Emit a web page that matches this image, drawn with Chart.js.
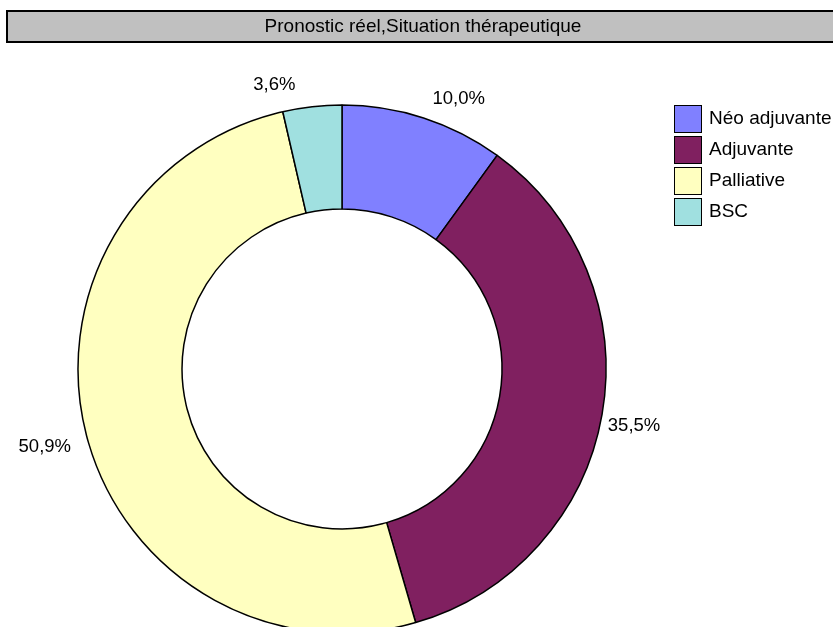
<!DOCTYPE html>
<html>
<head>
<meta charset="utf-8">
<script src="https://cdn.jsdelivr.net/npm/chart.js@4.4.0/dist/chart.umd.min.js"></script>
<style>
  html, body { margin: 0; padding: 0; background: #fff; }
  #wrap { width: 833px; height: 627px; }
</style>
</head>
<body>
<div id="wrap"><canvas id="pronostic" width="833" height="627"></canvas></div>
<script>
const chartTitle = 'Pronostic réel,Situation thérapeutique';
const categories = ['Néo adjuvante', 'Adjuvante', 'Palliative', 'BSC'];
const shares = [10.0, 35.5, 50.9, 3.6];
const sliceColors = ['#8080FF', '#802060', '#FFFFC0', '#A0E0E0'];

// shift of each value label from its arc anchor point
const labelNudge = [[4, 5], [-10, 0], [0, -2], [-15, 3]];

const FONT = '19px "Liberation Sans", Arial, sans-serif';
const LABEL_FONT = '18.5px "Liberation Sans", Arial, sans-serif';

const frame = {
  id: 'frame',
  beforeDraw(chart) {
    const ctx = chart.ctx;
    ctx.save();
    // title bar
    ctx.fillStyle = '#C0C0C0';
    ctx.fillRect(6, 10, 840, 32);
    ctx.strokeStyle = '#000';
    ctx.lineWidth = 2;
    ctx.strokeRect(7, 11, 840, 31);
    ctx.fillStyle = '#000';
    ctx.font = FONT;
    ctx.textAlign = 'center';
    ctx.textBaseline = 'middle';
    ctx.fillText(chartTitle, 423, 27);
    ctx.restore();
  },
  afterDraw(chart) {
    const ctx = chart.ctx;
    const arcs = chart.getDatasetMeta(0).data;
    ctx.save();
    ctx.font = LABEL_FONT;
    ctx.fillStyle = '#000';
    arcs.forEach((arc, i) => {
      const mid = (arc.startAngle + arc.endAngle) / 2;
      const r = arc.outerRadius + 16;
      const dx = Math.cos(mid), dy = Math.sin(mid);
      const x = arc.x + r * dx + labelNudge[i][0];
      const y = arc.y + r * dy + labelNudge[i][1];
      ctx.textAlign = dx >= 0 ? 'left' : 'right';
      ctx.textBaseline = dy < 0 ? 'bottom' : 'top';
      ctx.fillText(shares[i].toFixed(1).replace('.', ',') + '%', x, y);
    });

    // legend
    ctx.font = FONT;
    ctx.textAlign = 'left';
    ctx.textBaseline = 'middle';
    categories.forEach((name, i) => {
      const top = 105 + i * 31;
      ctx.fillStyle = sliceColors[i];
      ctx.fillRect(674, top, 27, 27);
      ctx.strokeStyle = '#000';
      ctx.lineWidth = 1;
      ctx.strokeRect(674.5, top + 0.5, 27, 27);
      ctx.fillStyle = '#000';
      ctx.fillText(name, 709, top + 14);
    });
    ctx.restore();
  }
};

new Chart(document.getElementById('pronostic'), {
  type: 'doughnut',
  data: {
    labels: categories,
    datasets: [{
      data: shares,
      backgroundColor: sliceColors,
      borderColor: '#000',
      borderWidth: 1.5,
      clip: false
    }]
  },
  options: {
    responsive: false,
    animation: false,
    radius: 264,
    cutout: '60.6%',
    layout: { padding: { left: 0, right: 149, top: 111, bottom: 0 } },
    plugins: {
      legend: { display: false },
      tooltip: { enabled: false }
    }
  },
  plugins: [frame]
});
</script>
</body>
</html>
